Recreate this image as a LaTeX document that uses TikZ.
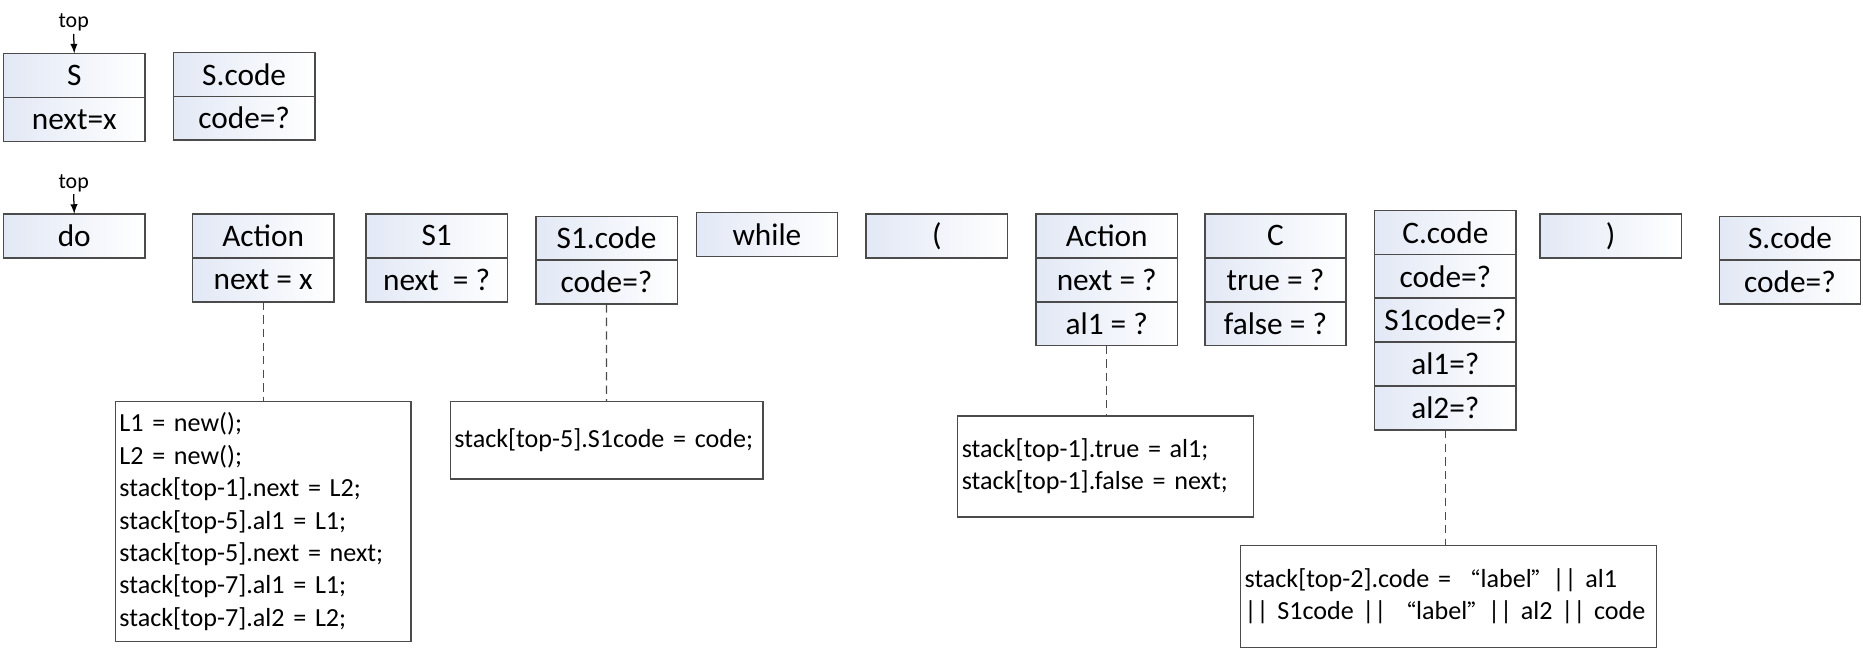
\documentclass[tikz,border=0pt]{standalone}
\usepackage{fontspec}
\setmainfont{Carlito}
\newfontfamily\cjk{Noto Sans CJK SC}[Scale=0.8]
\usepackage{tikz}
\usetikzlibrary{positioning, arrows}
\tikzset{>=latex}
\definecolor{cellblue}{RGB}{226, 232, 245}
\definecolor{edgegray}{RGB}{75, 75, 75}
\tikzset{
  cell/.style={rectangle, draw=edgegray, line width=0.7pt, left color=cellblue, right color=white, minimum width=2.38cm, minimum height=0.74cm, inner sep=0pt, outer sep=0pt, font=\fontsize{15}{18}\selectfont},
  codebox/.style={rectangle, draw=edgegray, line width=0.7pt, fill=white, inner xsep=0.07cm, inner ysep=0pt, outer sep=0pt, align=left, anchor=north west, font=\fontsize{12.5}{15.5}\selectfont},
  toplabel/.style={font=\fontsize{10.5}{12}\selectfont, inner sep=1pt},
  linkline/.style={draw=edgegray, line width=0.6pt, dash pattern=on 4pt off 2.5pt}
}
\begin{document}
\begin{tikzpicture}
\useasboundingbox (0,0) rectangle (31.36,-10.92);

% first stack
\node[toplabel] (topa) at (1.24,-0.38) {top};
\node[cell, anchor=north west] (s) at (0.06,-0.90) {S};
\node[cell, below=0pt of s] (s-next) {next=x};
\node[cell, anchor=north west] (scode) at (2.92,-0.88) {S.code};
\node[cell, below=0pt of scode] (scode-val) {code=?};
\draw[->, line width=0.6pt] (topa.south) -- (s.north);

% second stack
\node[toplabel] (topb) at (1.24,-3.08) {top};
\node[cell, anchor=north west] (do) at (0.06,-3.60) {do};
\draw[->, line width=0.6pt] (topb.south) -- (do.north);

\node[cell, anchor=north west] (act) at (3.24,-3.60) {Action};
\node[cell, below=0pt of act] (act-next) {next = x};

\node[cell, anchor=north west] (sone) at (6.16,-3.60) {S1};
\node[cell, below=0pt of sone] (sone-next) {next\ \ = ?};

\node[cell, anchor=north west] (sonecode) at (9.02,-3.64) {S1.code};
\node[cell, below=0pt of sonecode] (sonecode-val) {code=?};

\node[cell, anchor=north west] (while) at (11.72,-3.58) {while};
\node[cell, anchor=north west] (lpar) at (14.58,-3.60) {(};

\node[cell, anchor=north west] (acttwo) at (17.44,-3.60) {Action};
\node[cell, below=0pt of acttwo] (acttwo-next) {next = ?};
\node[cell, below=0pt of acttwo-next] (acttwo-al) {al1 = ?};

\node[cell, anchor=north west] (cond) at (20.28,-3.60) {C};
\node[cell, below=0pt of cond] (cond-true) {true = ?};
\node[cell, below=0pt of cond-true] (cond-false) {false = ?};

\node[cell, anchor=north west] (ccode) at (23.14,-3.54) {C.code};
\node[cell, below=0pt of ccode] (ccode-code) {code=?};
\node[cell, below=0pt of ccode-code] (ccode-sone) {S1code=?};
\node[cell, below=0pt of ccode-sone] (ccode-alone) {al1=?};
\node[cell, below=0pt of ccode-alone] (ccode-altwo) {al2=?};

\node[cell, anchor=north west] (rpar) at (25.92,-3.60) {)};

\node[cell, anchor=north west] (scodeb) at (28.94,-3.64) {S.code};
\node[cell, below=0pt of scodeb] (scodeb-val) {code=?};

% semantic actions
\node[codebox, text width=4.84cm, minimum height=4.04cm] (codeone) at (1.94,-6.76) {L1 = new();\\
L2 = new();\\
stack[top-1].next = L2;\\
stack[top-5].al1 = L1;\\
stack[top-5].next = next;\\
stack[top-7].al1 = L1;\\
stack[top-7].al2 = L2;};
\node[codebox, text width=5.12cm, minimum height=1.30cm] (codetwo) at (7.58,-6.76) {stack[top-5].S1code = code;};
\node[codebox, text width=4.84cm, minimum height=1.70cm] (codethree) at (16.12,-7.00) {stack[top-1].true = al1;\\
stack[top-1].false = next;};
\node[codebox, text width=6.86cm, minimum height=1.72cm] (codefour) at (20.88,-9.18) {stack[top-2].code = {\cjk “}label{\cjk ”}|| al1\\
|| S1code || {\cjk “}label{\cjk ”}|| al2 || code};

\draw[linkline] (act-next.south) -- (codeone.north);
\draw[linkline] (sonecode-val.south) -- (codetwo.north);
\draw[linkline] (acttwo-al.south) -- (acttwo-al.south |- codethree.north);
\draw[linkline] (ccode-altwo.south) -- (ccode-altwo.south |- codefour.north);
\end{tikzpicture}
\end{document}
